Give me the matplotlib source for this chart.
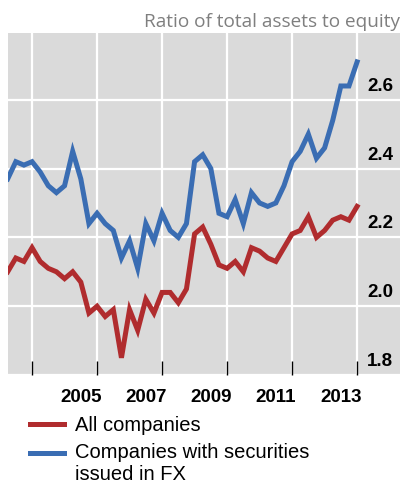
import numpy as np
import matplotlib
matplotlib.use('Agg')
import matplotlib.pyplot as plt
import matplotlib.transforms as mtransforms

start_year = 2003.25
all_companies = [2.10, 2.14, 2.13, 2.17, 2.13, 2.11, 2.10, 2.08, 2.10, 2.07,
                 1.98, 2.00, 1.97, 1.99, 1.85, 1.99, 1.93, 2.02, 1.98, 2.04,
                 2.04, 2.01, 2.05, 2.21, 2.23, 2.18, 2.12, 2.11, 2.13, 2.10,
                 2.17, 2.16, 2.14, 2.13, 2.17, 2.21, 2.22, 2.26, 2.20, 2.22,
                 2.25, 2.26, 2.25, 2.29]
fx_companies = [2.37, 2.42, 2.41, 2.42, 2.39, 2.35, 2.33, 2.35, 2.45, 2.37,
                2.24, 2.27, 2.24, 2.22, 2.14, 2.19, 2.11, 2.24, 2.19, 2.27,
                2.22, 2.20, 2.24, 2.42, 2.44, 2.40, 2.27, 2.26, 2.31, 2.24,
                2.33, 2.30, 2.29, 2.30, 2.35, 2.42, 2.45, 2.50, 2.43, 2.46,
                2.54, 2.64, 2.64, 2.71]
x_label_years = [2005, 2007, 2009, 2011, 2013]
x_grid_years = [2004, 2006, 2008, 2010, 2012, 2014]
y_ticks = [1.8, 2.0, 2.2, 2.4, 2.6]

quarters = start_year + 0.25 * np.arange(len(all_companies))

red = '#B02C2E'
blue = '#3A6DB3'

fig = plt.figure(figsize=(4.03, 4.86), dpi=100)
ax = fig.add_axes([8 / 403, 1 - 375 / 486, 392 / 403, 342 / 486])
ax.set_facecolor('#DADADA')

ax.set_xlim(2003.26, 2015.32)
ax.set_ylim(1.8, 2.794)

# white grid behind the data
ax.vlines(x_grid_years, 1.8, 2.794, colors='white', lw=1.6, zorder=1)
ax.hlines(y_ticks, 2003.26, 2015.32, colors='white', lw=1.6, zorder=1)

ax.plot(quarters, all_companies, color=red, lw=3.6, solid_joinstyle='miter',
        label='All companies', zorder=2)
ax.plot(quarters, fx_companies, color=blue, lw=3.6, solid_joinstyle='miter',
        label='Companies with securities\nissued in FX', zorder=2)

for s in ax.spines.values():
    s.set_visible(False)

# tick marks at year boundaries, labels in the middle of the year
ax.set_xticks(x_grid_years)
ax.set_xticks([y + 0.5 for y in x_label_years], minor=True)
ax.set_xticklabels([str(y) for y in x_label_years], minor=True,
                   fontfamily='Liberation Sans', fontweight='bold', fontsize=13.5)
ax.tick_params(axis='x', which='major', direction='in', length=10, width=1,
               color='black', labelbottom=False)
ax.tick_params(axis='x', which='minor', length=0, pad=10)

ax.set_yticks([])

# y labels sit just above their gridlines, inside the panel
trans = mtransforms.blended_transform_factory(ax.transAxes, ax.transData)
trans = trans + mtransforms.ScaledTranslation(0, 5 / 100, fig.dpi_scale_trans)
for v in y_ticks:
    ax.text(0.982, v, f'{v:.1f}', transform=trans, ha='right', va='bottom',
            fontfamily='Liberation Sans', fontweight='bold', fontsize=13.5,
            zorder=3)

fig.text(400 / 403, 1 - 27 / 486, 'Ratio of total assets to equity',
         ha='right', va='baseline', color='#7F7F7F', fontfamily='Open Sans',
         fontsize=13.7)

leg = fig.legend(loc='upper left', bbox_to_anchor=(30 / 403, 1 - 416 / 486),
                 frameon=False, prop={'family': 'Liberation Sans', 'size': 14.5},
                 handlelength=1.7, handletextpad=0.55, labelspacing=0.4,
                 borderpad=0, borderaxespad=0)
handles = leg.get_lines()
for h in handles:
    h.set_linewidth(3.6)
# align the blue key with the first line of its two-line label
handles[1].set_ydata(np.asarray(handles[1].get_ydata()) + 8)

fig.savefig('out.png', dpi=100)
